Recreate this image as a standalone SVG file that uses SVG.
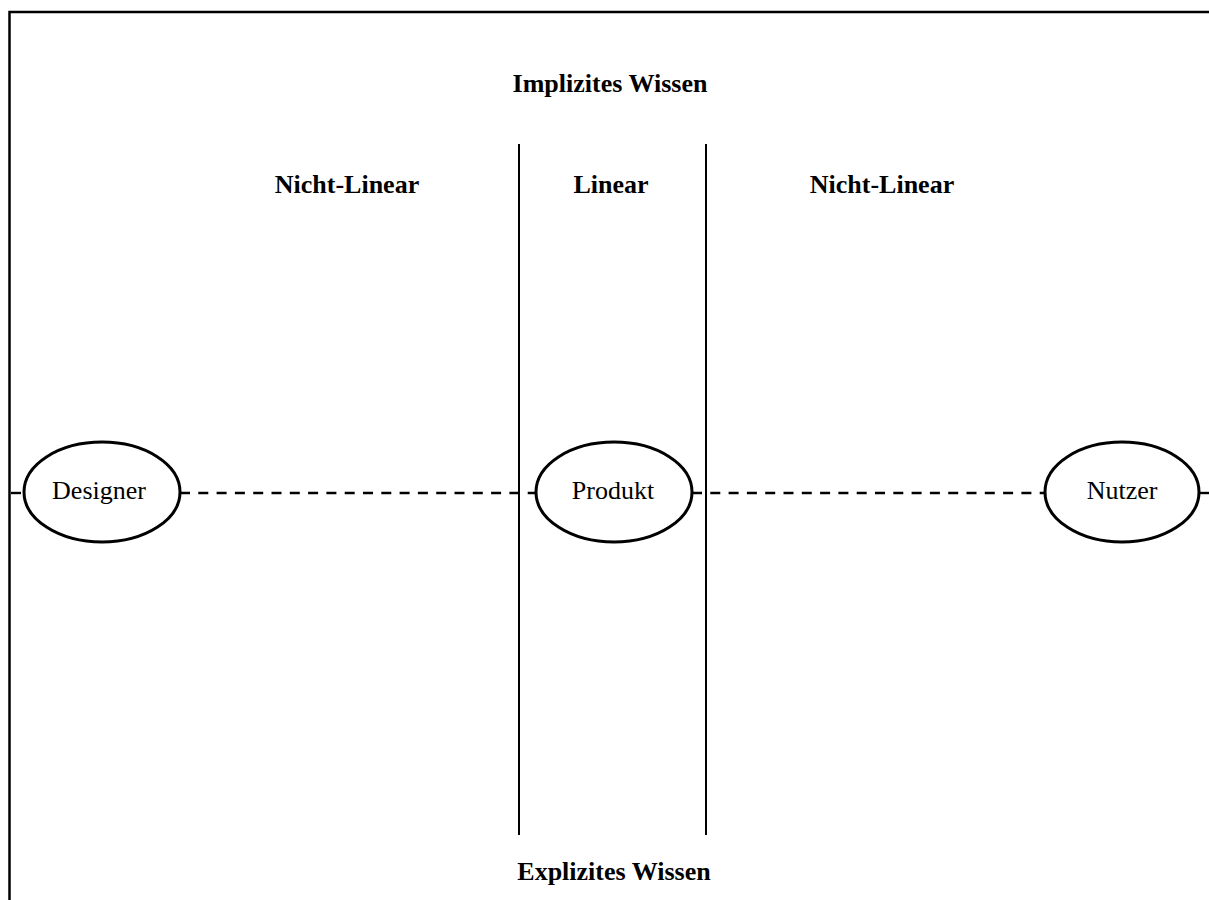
<svg xmlns="http://www.w3.org/2000/svg" width="1209" height="900" viewBox="0 0 1209 900">
  <style>
    .frame { fill: none; stroke: #000; stroke-width: 2.5; }
    .divider { stroke: #000; stroke-width: 2; }
    .link { stroke: #000; stroke-width: 2.4; stroke-dasharray: 10 8.3; fill: none; }
    .node ellipse { fill: #fff; stroke: #000; stroke-width: 3; }
    .label { font-family: "Liberation Serif", "Times New Roman", serif; font-size: 26px; fill: #000; text-anchor: middle; }
    .head { font-family: "Liberation Serif", "Times New Roman", serif; font-size: 26px; font-weight: bold; fill: #000; text-anchor: middle; }
  </style>
  <rect width="1209" height="900" fill="#fff"/>

  <!-- outer frame: left and top edges -->
  <path class="frame" d="M9.5 900 V12 H1209"/>

  <!-- zone dividers -->
  <g id="dividers">
    <line class="divider" x1="519" y1="144" x2="519" y2="835"/>
    <line class="divider" x1="706" y1="144" x2="706" y2="835"/>
  </g>

  <!-- headings -->
  <g id="headings">
    <text class="head" x="610" y="92">Implizites Wissen</text>
    <text class="head" x="347" y="193">Nicht-Linear</text>
    <text class="head" x="611" y="193">Linear</text>
    <text class="head" x="882" y="193">Nicht-Linear</text>
    <text class="head" x="614" y="880">Explizites Wissen</text>
  </g>

  <!-- dashed connectors -->
  <g id="connectors">
    <line class="link" x1="11" y1="493" x2="24" y2="493"/>
    <line class="link" x1="180" y1="493" x2="536" y2="493"/>
    <line class="link" x1="692" y1="493" x2="1045" y2="493"/>
    <line class="link" x1="1200" y1="493" x2="1209" y2="493"/>
  </g>

  <!-- nodes -->
  <g id="designer" class="node">
    <ellipse cx="102" cy="492" rx="78" ry="50"/>
    <text class="label" x="99" y="499">Designer</text>
  </g>
  <g id="produkt" class="node">
    <ellipse cx="614" cy="492" rx="78" ry="50"/>
    <text class="label" x="613" y="499">Produkt</text>
  </g>
  <g id="nutzer" class="node">
    <ellipse cx="1122" cy="492" rx="77" ry="50"/>
    <text class="label" x="1122" y="499">Nutzer</text>
  </g>
</svg>
